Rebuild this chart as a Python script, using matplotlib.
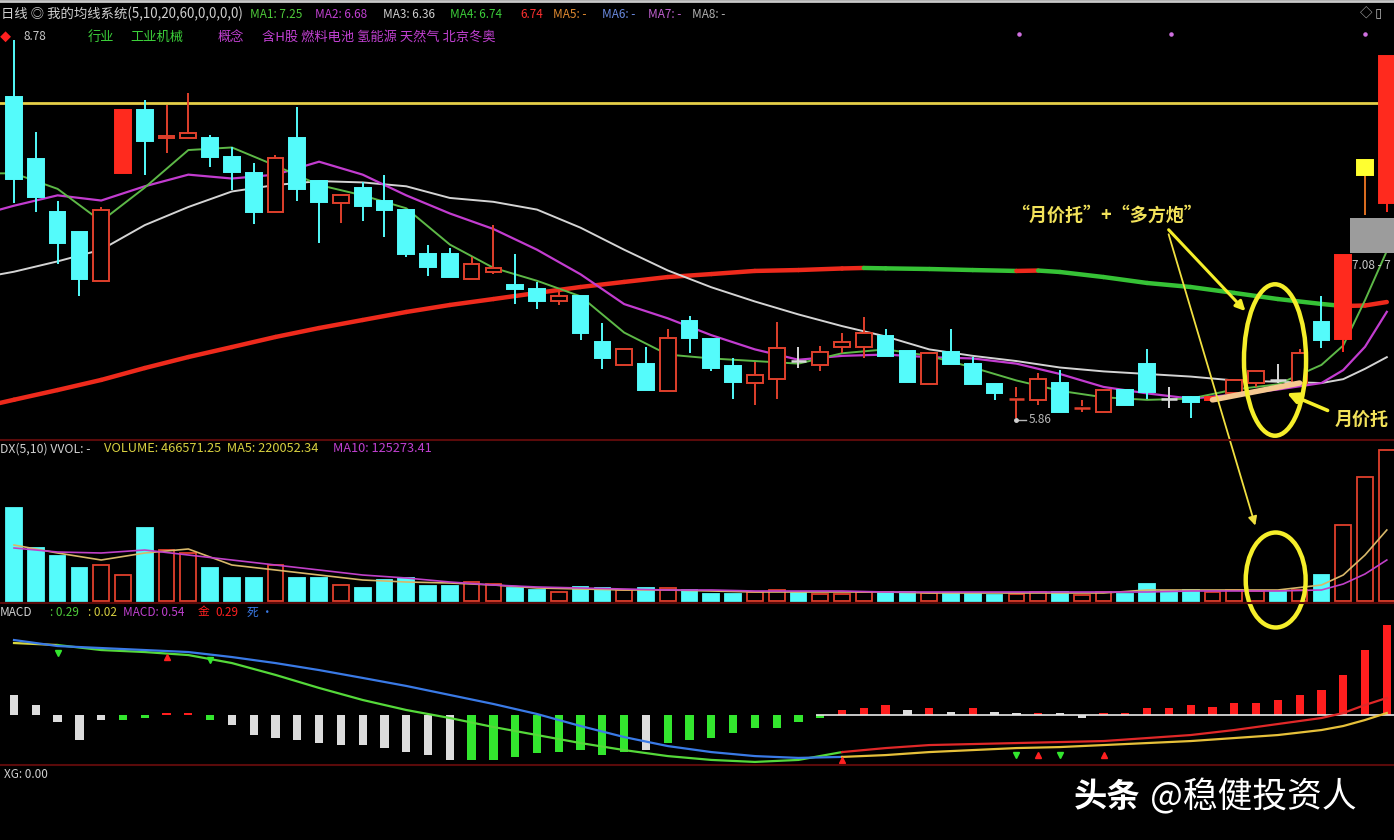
import numpy as np
import matplotlib
matplotlib.use('Agg')
import matplotlib.pyplot as plt
from matplotlib.patches import Rectangle, Ellipse
from matplotlib.collections import LineCollection

plt.rcParams['font.family'] = ['Noto Sans CJK SC', 'DejaVu Sans']

W, H = 1394, 840

# daily candles
OPEN = [8.34, 7.86, 7.45, 7.30, 6.92, 7.75, 8.24, 8.02, 8.02, 8.02, 7.88, 7.75, 7.45, 8.02, 7.69, 7.52,
        7.64, 7.54, 7.47, 7.13, 7.13, 6.93, 6.99, 6.89, 6.86, 6.76, 6.80, 6.45, 6.27, 6.28, 6.07, 6.61,
        6.47, 6.26, 6.13, 6.16, 6.30, 6.27, 6.41, 6.41, 6.49, 6.38, 6.12, 6.37, 6.28, 6.12, 6.01, 6.00,
        6.13, 5.94, 5.91, 6.08, 6.28, 6.01, 6.02, 6.00, 6.05, 6.13, 6.15, 6.13, 6.60, 6.47, 7.74, 7.52]
HIGH = [8.78, 8.07, 7.54, 7.30, 7.49, 8.24, 8.32, 8.28, 8.37, 8.05, 7.95, 7.83, 7.89, 8.26, 7.69, 7.58,
        7.68, 7.74, 7.47, 7.20, 7.17, 7.10, 7.35, 7.13, 6.91, 6.86, 6.80, 6.59, 6.39, 6.41, 6.55, 6.65,
        6.47, 6.32, 6.29, 6.60, 6.41, 6.42, 6.52, 6.64, 6.55, 6.38, 6.36, 6.55, 6.33, 6.12, 6.10, 6.21,
        6.23, 6.00, 6.08, 6.08, 6.39, 6.10, 6.03, 6.02, 6.15, 6.22, 6.28, 6.39, 6.80, 7.12, 7.85, 8.66]
LOW = [7.52, 7.45, 7.05, 6.80, 6.92, 7.75, 7.74, 7.91, 8.02, 7.80, 7.62, 7.36, 7.45, 7.54, 7.21, 7.37,
       7.38, 7.26, 7.10, 6.96, 6.95, 6.93, 6.97, 6.74, 6.70, 6.73, 6.46, 6.24, 6.27, 6.08, 6.07, 6.36,
       6.22, 6.01, 5.96, 6.01, 6.25, 6.22, 6.36, 6.32, 6.34, 6.14, 6.12, 6.28, 6.12, 6.00, 5.86, 5.96,
       5.91, 5.91, 5.91, 5.96, 6.01, 5.94, 5.86, 6.00, 6.05, 6.10, 6.13, 6.13, 6.40, 6.37, 7.43, 7.45]
CLOSE = [7.71, 7.57, 7.21, 6.93, 7.47, 8.24, 8.00, 8.04, 8.06, 7.88, 7.76, 7.45, 7.87, 7.63, 7.53, 7.58,
         7.50, 7.47, 7.13, 7.03, 6.95, 7.05, 7.02, 6.86, 6.76, 6.80, 6.52, 6.32, 6.39, 6.08, 6.48, 6.48,
         6.25, 6.14, 6.19, 6.40, 6.30, 6.37, 6.45, 6.52, 6.34, 6.14, 6.36, 6.28, 6.12, 6.05, 6.02, 6.16,
         5.91, 5.95, 6.08, 5.96, 6.06, 6.01, 5.98, 6.02, 6.15, 6.22, 6.15, 6.36, 6.46, 7.12, 7.85, 8.66]
SOLID_RED = [5, 55, 61, 63]
WHITE_DOJI = [36, 53, 58]
YELLOW_BAR = [62]

# moving average lines
MA_X = [-0.65, 0, 2, 4, 6, 8, 10, 12, 14, 16, 18, 20, 22, 24, 26, 28, 30, 32, 34, 36, 38, 40, 42, 44,
        46, 48, 50, 52, 54, 56, 58, 60, 61, 62, 63]
MA5 = [7.75, 7.75, 7.63, 7.38, 7.64, 7.93, 7.95, 7.81, 7.66, 7.58, 7.48, 7.20, 7.02, 6.92, 6.80, 6.52,
       6.35, 6.32, 6.30, 6.28, 6.36, 6.39, 6.34, 6.25, 6.15, 6.07, 6.02, 6.00, 6.01, 6.08, 6.12, 6.27,
       6.42, 6.77, 7.15]
MA10 = [7.47, 7.50, 7.58, 7.54, 7.65, 7.74, 7.71, 7.74, 7.84, 7.74, 7.58, 7.44, 7.32, 7.16, 6.97, 6.74,
        6.63, 6.50, 6.39, 6.31, 6.34, 6.35, 6.33, 6.32, 6.28, 6.20, 6.10, 6.05, 6.01, 6.04, 6.08, 6.13,
        6.23, 6.41, 6.68]
MA20 = [6.97, 6.99, 7.07, 7.16, 7.35, 7.49, 7.61, 7.66, 7.69, 7.68, 7.65, 7.56, 7.53, 7.47, 7.33, 7.16,
        7.00, 6.87, 6.76, 6.66, 6.57, 6.49, 6.39, 6.34, 6.30, 6.25, 6.22, 6.20, 6.18, 6.15, 6.14, 6.13,
        6.16, 6.24, 6.33]
MA60_X = [-0.65, 0, 2, 4, 6, 8, 10, 12, 14, 16, 18, 20, 22, 24, 26, 28, 30, 32, 34, 36, 38, 39, 40, 42,
          44, 46, 47, 48, 50, 52, 54, 56, 58, 60, 61, 62, 63]
MA60 = [5.976, 6.001, 6.076, 6.154, 6.246, 6.331, 6.408, 6.486, 6.555, 6.617, 6.679, 6.733, 6.779,
        6.826, 6.872, 6.911, 6.949, 6.972, 6.996, 7.003, 7.015, 7.019, 7.016, 7.011, 7.003, 6.996,
        6.999, 6.988, 6.949, 6.903, 6.872, 6.826, 6.779, 6.741, 6.725, 6.729, 6.756]
PRESSURE_LINE = 8.29

# volume
VOLUME = [287400, 163800, 139000, 102000, 111200, 80300, 225600, 157600, 148300, 102000, 71100, 71100,
          111200, 71100, 71100, 49400, 40200, 64900, 71100, 46400, 46400, 58700, 52500, 40200, 34000,
          27800, 43300, 40200, 34000, 40200, 40200, 34000, 21600, 21600, 27800, 34000, 27800, 21600,
          21600, 27800, 27800, 27800, 24700, 24700, 21600, 18500, 21600, 27800, 27800, 18500, 27800,
          21600, 52500, 30900, 34000, 27800, 34000, 30900, 27800, 34000, 80300, 234800, 383200, 466571]
VOL_MA5 = [173000, 148300, 126700, 148300, 160700, 111200, 95800, 80300, 64900, 58700, 55600, 49400,
           40200, 37100, 34000, 34000, 30900, 27800, 27800, 27800, 27800, 24700, 24700, 24700, 24700,
           24700, 34000, 34000, 34000, 34000, 49400, 80300, 142100, 219400]
VOL_MA10 = [163800, 151400, 148300, 157600, 142100, 126700, 111200, 95800, 80300, 71100, 58700, 49400,
            43300, 40200, 37100, 34000, 34000, 30900, 30900, 30900, 27800, 27800, 27800, 27800, 27800,
            27800, 27800, 30900, 30900, 30900, 34000, 52500, 83400, 126700]
SUB_X = [0, 2, 4, 6, 8, 10, 12, 14, 16, 18, 20, 22, 24, 26, 28, 30, 32, 34, 36, 38, 40, 42, 44, 46,
         48, 50, 52, 54, 56, 58, 60, 61, 62, 63]

# MACD
MACD_HIST = [0.12, 0.06, -0.04, -0.15, -0.03, -0.03, -0.02, 0.01, 0.01, -0.03, -0.06, -0.12, -0.14,
             -0.15, -0.17, -0.18, -0.18, -0.20, -0.22, -0.24, -0.27, -0.27, -0.27, -0.25, -0.23, -0.22,
             -0.21, -0.24, -0.22, -0.21, -0.17, -0.15, -0.14, -0.11, -0.08, -0.08, -0.04, -0.02, 0.03,
             0.04, 0.06, 0.03, 0.04, 0.02, 0.04, 0.02, 0.01, 0.01, 0.01, -0.02, 0.01, 0.01, 0.04, 0.04,
             0.06, 0.05, 0.07, 0.07, 0.09, 0.12, 0.15, 0.24, 0.39, 0.54]
MACD_TONE = 'wwwwwggrrgwwwwwwwwwwwggggggggwggggggggrrrwrwrwwrwwrrrrrrrrrrrrrr'
DIF = [0.431, 0.419, 0.389, 0.377, 0.359, 0.311, 0.240, 0.162, 0.090, 0.030, -0.018, -0.072, -0.120,
       -0.168, -0.210, -0.246, -0.269, -0.281, -0.269, -0.222, -0.198, -0.180, -0.174, -0.168, -0.162,
       -0.156, -0.138, -0.120, -0.090, -0.054, -0.018, 0.012, 0.060, 0.102]
DEA = [0.449, 0.413, 0.401, 0.389, 0.377, 0.347, 0.311, 0.269, 0.222, 0.174, 0.120, 0.066, 0.006,
       -0.066, -0.132, -0.186, -0.222, -0.246, -0.257, -0.251, -0.240, -0.222, -0.210, -0.198, -0.192,
       -0.180, -0.168, -0.156, -0.138, -0.120, -0.090, -0.066, -0.030, 0.012]

CYAN = '#54fbfb'
RED = '#ff2a1e'
RED_EDGE = '#e0402c'
NOTE = '#f2e25a'
XLIM = (-0.643, 63.33)


def panel(fig, top, bottom):
    ax = fig.add_axes([0, 1 - bottom / H, 1, (bottom - top) / H])
    ax.set_facecolor('black')
    ax.set_xlim(*XLIM)
    ax.axis('off')
    return ax


def candle_color(i):
    if i in SOLID_RED:
        return RED, RED
    if i in WHITE_DOJI:
        return '#d8d8d8', '#d8d8d8'
    if i in YELLOW_BAR:
        return '#ffff30', '#e07020'
    if CLOSE[i] >= OPEN[i]:
        return 'black', RED_EDGE
    return CYAN, CYAN


def draw_candles(ax):
    w = 0.72
    for i in range(len(OPEN)):
        face, edge = candle_color(i)
        o, h, l, c = OPEN[i], HIGH[i], LOW[i], CLOSE[i]
        top, bot = max(o, c), min(o, c)
        ax.vlines(i, top, h, color=edge, lw=1.4, zorder=3)
        ax.vlines(i, l, bot, color=edge, lw=1.4, zorder=3)
        if top - bot < 0.015:
            ax.hlines(o, i - w / 2, i + w / 2, color=edge, lw=1.8, zorder=4)
        else:
            ax.add_patch(Rectangle((i - w / 2, bot), w, top - bot, facecolor=face,
                                   edgecolor=edge if face == 'black' else face, lw=1.4, zorder=4))


def draw_price(ax):
    ax.set_ylim(5.690, 8.896)
    ax.axhline(PRESSURE_LINE, color='#e6cf48', lw=2, zorder=2)
    pts = np.column_stack([MA60_X, MA60])
    segs = np.stack([pts[:-1], pts[1:]], axis=1)
    cols = ['#ee2a1c' if b >= a else '#36c236' for a, b in zip(MA60[:-1], MA60[1:])]
    ax.add_collection(LineCollection(segs, colors=cols, linewidths=3.2, capstyle='round', zorder=2))
    ax.plot(MA_X, MA20, color='#d4d4d4', lw=1.4, zorder=2)
    ax.plot(MA_X, MA10, color='#c23ccf', lw=1.6, zorder=2)
    ax.plot(MA_X, MA5, color='#5db847', lw=1.4, zorder=2)
    draw_candles(ax)

    # lowest point tag and the right side price box
    ax.plot([46, 46.45], [5.845, 5.845], color='#b8b8b8', lw=1, zorder=5)
    ax.plot(46, 5.845, 'o', ms=2.5, color='#d0d0d0', zorder=5)
    ax.text(46.55, 5.845, '5.86', color='#b8b8b8', fontsize=8.5, va='center', zorder=5)
    ax.add_patch(Rectangle((61.3, 7.135), 2.1, 0.27, facecolor='#9c9c9c', edgecolor='none', zorder=6))
    ax.text(61.4, 7.035, '7.08 - 7', color='#c8c8c8', fontsize=8.5, va='center', zorder=6)
    ax.scatter([46.1, 53.1, 62.0], [8.83, 8.83, 8.83], s=5, color='#d070e0', zorder=5)

    # annotations
    ax.plot([55.0, 59.0], [6.00, 6.13], color='#f5c890', lw=4, solid_capstyle='round', zorder=6)
    ax.add_patch(Ellipse((57.87, 6.308), 2.85, 1.17, fill=False, edgecolor='#f5ee2a', lw=3.2, zorder=7))
    ax.text(45.75, 7.43, '“月价托”+“多方炮”', color=NOTE, fontsize=13, fontweight='bold',
            va='center', zorder=7)
    ax.annotate('', xy=(56.6, 6.67), xytext=(52.9, 7.33),
                arrowprops=dict(arrowstyle='-|>', color='#f5ee2a', lw=2.2, mutation_scale=14), zorder=7)
    ax.annotate('', xy=(58.3, 6.06), xytext=(60.4, 5.91),
                arrowprops=dict(arrowstyle='-|>', color='#f5ee2a', lw=2.6, mutation_scale=16), zorder=7)
    ax.text(60.6, 5.85, '月价托', color=NOTE, fontsize=13, fontweight='bold', va='center', zorder=7)


def draw_volume(ax, ax_price):
    ax.set_ylim(-6180, 494400)
    w = 0.72
    for i, v in enumerate(VOLUME):
        face, edge = candle_color(i)
        if i in YELLOW_BAR or i in SOLID_RED:
            face, edge = 'black', RED_EDGE
        if i in WHITE_DOJI:
            face, edge = CYAN, CYAN
        ax.add_patch(Rectangle((i - w / 2, 0), w, v, facecolor=face,
                               edgecolor=edge if face == 'black' else face, lw=1.3))
    ax.plot(SUB_X, VOL_MA5, color='#d8b86a', lw=1.2)
    ax.plot(SUB_X, VOL_MA10, color='#c040c8', lw=1.2)
    ax.add_patch(Ellipse((57.9, 64890), 2.75, 293550, fill=False, edgecolor='#f5ee2a', lw=3.2,
                         zorder=7, clip_on=False))
    ax.annotate('', xy=(57.0, 225000), xycoords=ax.transData, xytext=(52.95, 7.30),
                textcoords=ax_price.transData, annotation_clip=False,
                arrowprops=dict(arrowstyle='-|>', color='#f0e040', lw=1.3, mutation_scale=13), zorder=8)


def draw_macd(ax):
    ax.set_ylim(-0.2994, 0.6647)
    tones = {'w': '#dcdcdc', 'g': '#33e62e', 'r': '#ff1e1e'}
    ax.bar(range(len(MACD_HIST)), MACD_HIST, width=0.38, color=[tones[t] for t in MACD_TONE])
    ax.hlines(0, 36.8, XLIM[1], color='#e8e8e8', lw=1.2)
    x = np.array(SUB_X)
    split = int(np.searchsorted(x, 38)) + 1
    ax.plot(x[:2], DIF[:2], color='#d6d640', lw=1.6)
    ax.plot(x[1:split], DIF[1:split], color='#55d93a', lw=1.6)
    ax.plot(x[split - 1:], DIF[split - 1:], color='#e02828', lw=1.6)
    ax.plot(x[:split], DEA[:split], color='#3a7ae6', lw=1.6)
    ax.plot(x[split - 1:], DEA[split - 1:], color='#e6c03a', lw=1.6)
    ax.plot([2, 9], [0.37, 0.33], 'v', color='#33e62e', ms=4)
    ax.plot([7], [0.35], '^', color='#ff2020', ms=4)
    ax.plot([38, 47, 50], [-0.27, -0.24, -0.24], '^', color='#ff2020', ms=4)
    ax.plot([46, 48], [-0.24, -0.24], 'v', color='#33e62e', ms=4)


def header(fig, x, y, s, color, size=8.5, **kw):
    fig.text(x / W, 1 - y / H, s, color=color, fontsize=size, va='center', **kw)


def main():
    fig = plt.figure(figsize=(W / 100, H / 100), dpi=100, facecolor='black')
    ax_price = panel(fig, 25, 440)
    ax_vol = panel(fig, 441, 603)
    ax_macd = panel(fig, 604, 765)
    panel(fig, 766, 840)

    draw_price(ax_price)
    draw_volume(ax_vol, ax_price)
    draw_macd(ax_macd)

    for y in (440, 603, 765):
        fig.add_artist(plt.Line2D([0, 1], [1 - y / H] * 2, color='#5a0a0a', lw=1.5))
    fig.add_artist(plt.Line2D([0, 1], [1 - 1 / H] * 2, color='#c8c8c8', lw=2))

    header(fig, 1, 14, '日线 ◎ 我的均线系统(5,10,20,60,0,0,0,0)', '#d0d0d0', 9.6)
    header(fig, 250, 14, 'MA1: 7.25', '#4ecb3a')
    header(fig, 315, 14, 'MA2: 6.68', '#c040d0')
    header(fig, 383, 14, 'MA3: 6.36', '#d0d0d0')
    header(fig, 450, 14, 'MA4: 6.74', '#3ccf3a')
    header(fig, 520, 14, '6.74', '#ff3030')
    header(fig, 553, 14, 'MA5: -', '#e08a30')
    header(fig, 602, 14, 'MA6: -', '#6a8ae0')
    header(fig, 648, 14, 'MA7: -', '#c060d0')
    header(fig, 692, 14, 'MA8: -', '#b0b0b0')
    header(fig, 1360, 14, '◇ ▯', '#c0c0c0', 9)
    header(fig, 0, 37, '◆', '#ff2020', 8)
    header(fig, 24, 37, '8.78', '#c8c8c8')
    header(fig, 88, 37, '行业', '#3ccf3a', 9.5)
    header(fig, 130, 37, '工业机械', '#3ccf3a', 9.5)
    header(fig, 218, 37, '概念', '#c040d0', 9.5)
    header(fig, 262, 37, '含H股 燃料电池 氢能源 天然气 北京冬奥', '#c040d0', 9.5)

    header(fig, 0, 449, 'DX(5,10) VVOL: -', '#d0d0d0', 8.8)
    header(fig, 104, 449, 'VOLUME: 466571.25  MA5: 220052.34', '#d8d040', 9.2)
    header(fig, 333, 449, 'MA10: 125273.41', '#c040d0', 9.2)

    header(fig, 0, 612, 'MACD', '#d0d0d0')
    header(fig, 50, 612, ': 0.29', '#4ecb3a')
    header(fig, 88, 612, ': 0.02', '#d8d040')
    header(fig, 123, 612, 'MACD: 0.54', '#c040d0')
    header(fig, 198, 612, '金', '#ff2020')
    header(fig, 215, 612, '0.29', '#ff2020')
    header(fig, 247, 612, '死 ·', '#3a7ae6')

    header(fig, 4, 774, 'XG: 0.00', '#d0d0d0')
    header(fig, 1074, 797, '头条', '#ffffff', 24, fontweight='bold')
    header(fig, 1150, 797, '@稳健投资人', '#ffffff', 25)

    fig.savefig('out.png', dpi=100, facecolor='black')
    plt.close(fig)


if __name__ == '__main__':
    main()
